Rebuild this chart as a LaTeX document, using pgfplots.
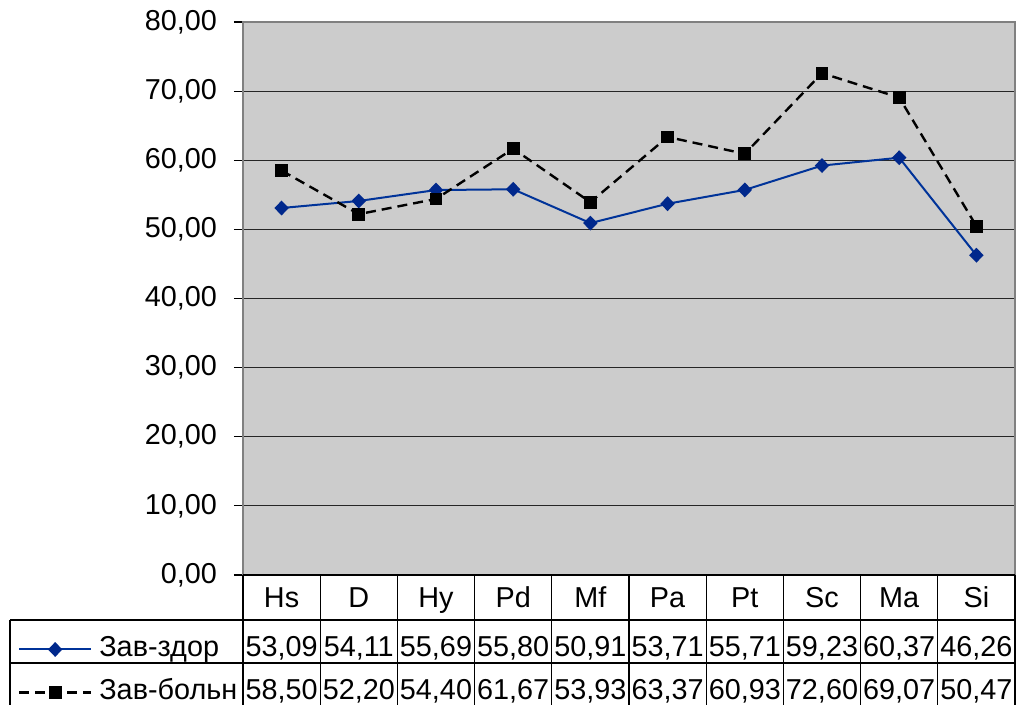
\documentclass[border=0pt]{standalone}
\usepackage{pgfplots}
\pgfplotsset{compat=1.18}
\usepackage{fontspec}
\setmainfont{Liberation Sans}
\definecolor{serblue}{RGB}{0,51,153}
\definecolor{markblue}{RGB}{0,40,140}
\definecolor{plotbg}{RGB}{204,204,204}
\newcommand{\tf}{\fontsize{14.4pt}{17pt}\selectfont}
\begin{document}
\begin{tikzpicture}
\begin{axis}[
  at={(0pt,0pt)}, anchor=south west,
  scale only axis, width=386pt, height=276.5pt,
  xmin=-0.5, xmax=9.5, ymin=0, ymax=80,
  xtick=\empty, ytick={0,10,...,80},
  ytick pos=left, tick align=outside, major tick length=4.5pt,
  tick style={black, line width=0.6pt},
  ymajorgrids, grid style={black!85, line width=0.6pt},
  axis background/.style={fill=plotbg},
  axis line style={draw=black!50, line width=0.8pt},
  yticklabel style={font=\tf, xshift=-5pt, /pgf/number format/fixed, /pgf/number format/fixed zerofill,
    /pgf/number format/precision=2, /pgf/number format/use comma,
    /pgf/number format/assume math mode=true},
  clip=false,
  legend style={at={(axis description cs:-0.2915,-0.1103)}, anchor=north west,
    draw=none, fill=none, inner sep=0pt, outer sep=0pt, font=\tf,
    cells={anchor=west}, nodes={inner sep=0pt, text height=10.5pt, text depth=11pt},
    column sep=3.5pt},
  legend image code/.code={\draw[mark repeat=2,mark phase=2,#1]
    plot coordinates {(0pt,4pt) (18pt,4pt) (36pt,4pt)};},
]
\addplot[serblue, line width=1pt, mark=diamond*, mark size=3pt,
  mark options={solid, xscale=1.3, fill=markblue, draw=markblue}]
  coordinates {(0,53.09) (1,54.11) (2,55.69) (3,55.80) (4,50.91)
               (5,53.71) (6,55.71) (7,59.23) (8,60.37) (9,46.26)};
\addlegendentry{Зав-здор}
\addplot[black, line width=1.2pt, dash pattern=on 5pt off 3pt, mark=square*,
  mark size=2.6pt, mark options={solid}]
  coordinates {(0,58.50) (1,52.20) (2,54.40) (3,61.67) (4,53.93)
               (5,63.37) (6,60.93) (7,72.60) (8,69.07) (9,50.47)};
\addlegendentry{Зав-больн}
\end{axis}
\begin{scope}[x=0.5pt, y=0.5pt, line width=0.6pt]
  % data table grid
  \draw (0,0) -- (772,0);
  \draw (-233,-45) -- (772,-45);
  \draw (-233,-88) -- (772,-88);
  \draw (-233,-131) -- (772,-131);
  \draw (-233,-45) -- (-233,-131);
  \foreach \k in {0,...,10} \draw ({77.2*\k},0) -- ({77.2*\k},-131);
  % categories
  \foreach \lab [count=\k from 0] in {Hs,D,Hy,Pd,Mf,Pa,Pt,Sc,Ma,Si}
    \node[anchor=base, inner sep=0pt] at ({38.6+77.2*\k},-33) {\tf \lab};
  % values
  \foreach \v [count=\k from 0] in {{53,09},{54,11},{55,69},{55,80},{50,91},{53,71},{55,71},{59,23},{60,37},{46,26}}
    \node[anchor=base, inner sep=0pt] at ({38.6+77.2*\k},-82) {\tf \v};
  \foreach \v [count=\k from 0] in {{58,50},{52,20},{54,40},{61,67},{53,93},{63,37},{60,93},{72,60},{69,07},{50,47}}
    \node[anchor=base, inner sep=0pt] at ({38.6+77.2*\k},-125) {\tf \v};
  \pgfresetboundingbox
  \path[use as bounding box] (-243,-130) rectangle (775,575);
\end{scope}
\end{tikzpicture}
\end{document}
